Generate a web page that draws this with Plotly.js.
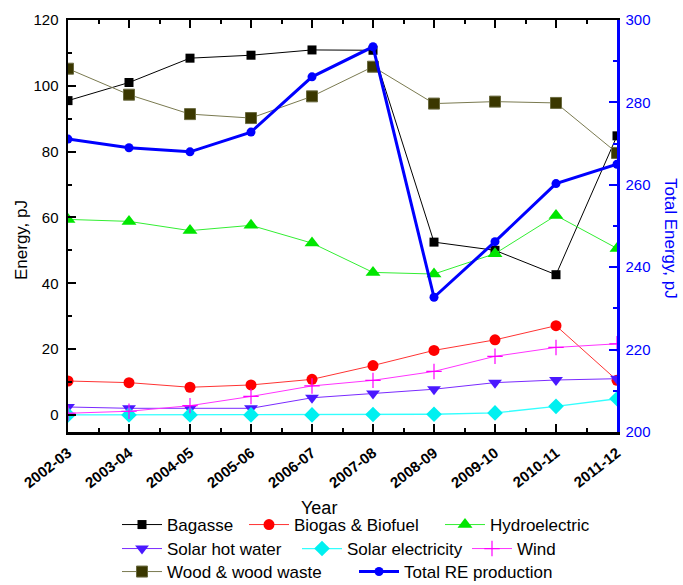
<!DOCTYPE html>
<html>
<head>
<meta charset="utf-8">
<script src="https://cdn.plot.ly/plotly-3.0.1.min.js"></script>
<style>html,body{margin:0;padding:0;background:#fff;}#chart{width:683px;height:585px;}</style>
</head>
<body>
<div id="chart"></div>
<script>
var years = ["2002-03","2003-04","2004-05","2005-06","2006-07","2007-08","2008-09","2009-10","2010-11","2011-12"];
var bagasse = [95.5, 101, 108.4, 109.3, 110.9, 110.8, 52.5, 50, 42.6, 84.8];
var biogas = [10.3, 9.8, 8.4, 9.1, 10.8, 15.0, 19.6, 22.8, 27.1, 10.5];
var hydro = [59.4, 58.8, 56.0, 57.6, 52.2, 43.3, 42.8, 49.0, 60.6, 50.6];
var solarHot = [2.4, 2.0, 2.0, 2.0, 5.2, 6.5, 7.8, 9.8, 10.6, 11.0];
var solarElec = [0, 0, 0, 0, 0, 0.1, 0.2, 0.6, 2.6, 4.9];
var wind = [0.5, 1.1, 2.8, 5.6, 8.8, 10.5, 13.2, 17.8, 20.5, 21.6];
var wood = [105.2, 97.3, 91.4, 90.2, 96.8, 105.8, 94.6, 95.2, 94.8, 79.6];
var totalRE = [271.1, 269.0, 268.0, 272.8, 286.2, 293.5, 232.7, 246.2, 260.3, 265.0];

var idx = years.map(function(_, i){ return i; });
var FONT = "Arial, 'Liberation Sans', sans-serif";

function tr(name, y, opts, legend) {
  var t = {x: idx, y: y, name: name, type: 'scatter', mode: 'lines+markers',
    line: {color: opts.lc, width: opts.lw || 1}, marker: opts.m, legend: legend};
  if (opts.yaxis) t.yaxis = opts.yaxis;
  return t;
}

var data = [
  tr('Bagasse', bagasse, {lc:'#000000', m:{symbol:'square', size:9, color:'#000000'}}, 'legend'),
  tr('Biogas & Biofuel', biogas, {lc:'#ff3333', m:{symbol:'circle', size:11, color:'#ff0000'}}, 'legend2'),
  tr('Hydroelectric', hydro, {lc:'#33ee33', m:{symbol:'triangle-up', size:13, color:'#00e600'}}, 'legend3'),
  tr('Solar hot water', solarHot, {lc:'#7a2aff', m:{symbol:'triangle-down', size:12, color:'#4a18ff'}}, 'legend4'),
  tr('Solar electricity', solarElec, {lc:'#33ffff', lw:1.3, m:{symbol:'diamond', size:12, color:'#00f0f0'}}, 'legend5'),
  tr('Wind', wind, {lc:'#ff33ff', m:{symbol:'cross-thin', size:11, color:'#ff00ff', line:{color:'#ff00ff', width:1.2}}}, 'legend6'),
  tr('Wood & wood waste', wood, {lc:'#7a7a50', m:{symbol:'square', size:11, color:'#3a3700', line:{color:'#6a6a40', width:1}}}, 'legend7'),
  tr('Total RE production', totalRE, {lc:'#0000ff', lw:3, yaxis:'y2', m:{symbol:'circle', size:9, color:'#0000ff'}}, 'legend8')
];

var L = 68, PW = 549, B = 432, PH = 412;
function px2x(p){ return (p - L) / PW; }
function px2y(p){ return (B - p) / PH; }
function leg(pxX, pxY) {
  return {x: px2x(pxX), y: px2y(pxY), xanchor: 'left', yanchor: 'middle', orientation: 'h',
    bgcolor: 'rgba(0,0,0,0)', borderwidth: 0, font: {family: FONT, size: 17, color: '#000'},
    itemwidth: 40, tracegroupgap: 0};
}

var layout = {
  width: 683, height: 585,
  margin: {l: 68, r: 66, t: 20, b: 153, autoexpand: false},
  paper_bgcolor: '#fff', plot_bgcolor: '#fff',
  font: {family: FONT, size: 15, color: '#000'},
  xaxis: {
    range: [0, 9], tickvals: idx, ticktext: years, tickangle: -38, automargin: false,
    ticklabelstandoff: 4,
    tickfont: {family: FONT, size: 15, color: '#000', weight: 'bold'},
    showgrid: false, zeroline: false, showline: true, linecolor: '#000', linewidth: 2.5,
    mirror: 'ticks', ticks: 'inside', ticklen: 8, tickwidth: 2, tickcolor: '#000',
    minor: {dtick: 0.5, tick0: 0, ticks: 'inside', ticklen: 4, tickwidth: 2, tickcolor: '#000'}
  },
  yaxis: {
    range: [-5.2, 120], tickvals: [0, 20, 40, 60, 80, 100, 120], automargin: false,
    ticklabelstandoff: 4,
    showgrid: false, zeroline: false, showline: true, linecolor: '#000', linewidth: 2.5,
    ticks: 'inside', ticklen: 8, tickwidth: 2, tickcolor: '#000',
    tickfont: {family: FONT, size: 15, color: '#000'},
    minor: {dtick: 10, tick0: 0, ticks: 'inside', ticklen: 4, tickwidth: 2, tickcolor: '#000'}
  },
  yaxis2: {
    overlaying: 'y', side: 'right', range: [200, 300], dtick: 20, automargin: false,
    ticklabelstandoff: 3,
    showgrid: false, zeroline: false, showline: true, linecolor: '#0000ff', linewidth: 2.5,
    ticks: 'inside', ticklen: 8, tickwidth: 2, tickcolor: '#0000ff',
    tickfont: {family: FONT, size: 15, color: '#0000ff'},
    minor: {dtick: 10, tick0: 200, ticks: 'inside', ticklen: 4, tickwidth: 2, tickcolor: '#0000ff'}
  },
  legend: leg(117, 525),
  legend2: leg(244, 525),
  legend3: leg(440, 525),
  legend4: leg(117, 549),
  legend5: leg(297, 549),
  legend6: leg(467, 549),
  legend7: leg(117, 572),
  legend8: leg(354, 572),
  annotations: [
    {text: 'Year', xref: 'paper', yref: 'paper', x: px2x(319), y: px2y(508), showarrow: false,
     font: {family: FONT, size: 18, color: '#000'}, xanchor: 'center', yanchor: 'middle'},
    {text: 'Energy, pJ', xref: 'paper', yref: 'paper', x: px2x(21), y: px2y(240), showarrow: false,
     textangle: -90, font: {family: FONT, size: 17, color: '#000'}, xanchor: 'center', yanchor: 'middle'},
    {text: 'Total Energy, pJ', xref: 'paper', yref: 'paper', x: px2x(671), y: px2y(238), showarrow: false,
     textangle: 90, font: {family: FONT, size: 17, color: '#0000ff'}, xanchor: 'center', yanchor: 'middle'}
  ],
  showlegend: true
};

Plotly.newPlot('chart', data, layout, {displayModeBar: false, staticPlot: true});
</script>
</body>
</html>
